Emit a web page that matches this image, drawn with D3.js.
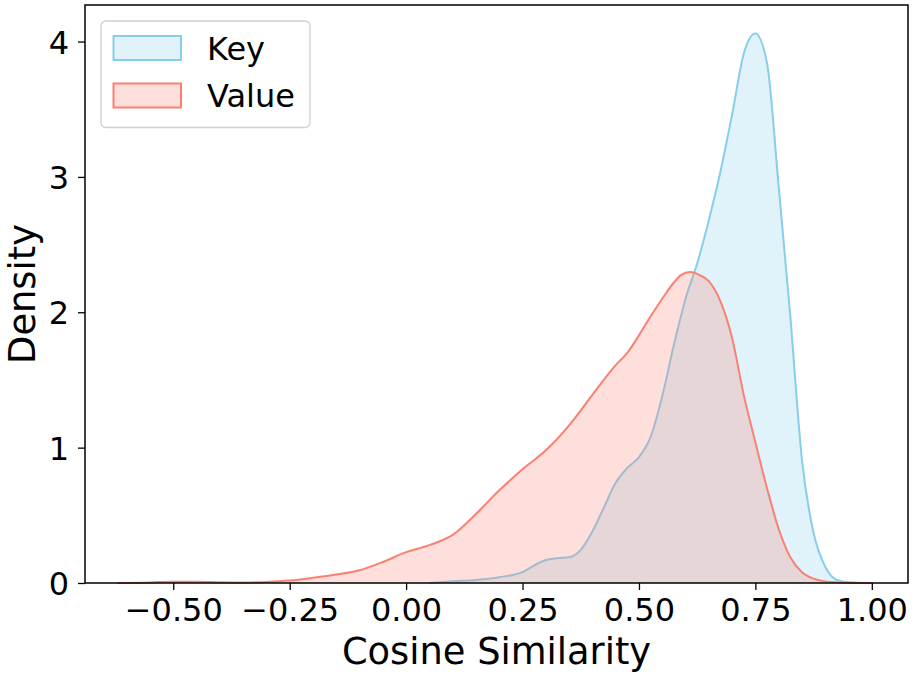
<!DOCTYPE html>
<html>
<head>
<meta charset="utf-8">
<script src="https://cdn.jsdelivr.net/npm/d3@7"></script>
<style>
  html, body { margin: 0; padding: 0; background: #fff; }
  svg { display: block; font-family: "DejaVu Sans", sans-serif; }
</style>
</head>
<body>
<svg id="chart" width="914" height="676"></svg>
<script>
// ---- data ----
const seriesNames = ["Key", "Value"];
const keyX = [0.05, 0.10, 0.15, 0.20, 0.25, 0.275, 0.30, 0.325, 0.35, 0.375, 0.40, 0.425, 0.45, 0.475, 0.50, 0.525, 0.55, 0.575, 0.60, 0.625, 0.65, 0.675, 0.70, 0.725, 0.75, 0.775, 0.80, 0.825, 0.85, 0.875, 0.90, 0.925, 0.95, 1.00];
const keyY = [0.0, 0.013, 0.023, 0.043, 0.08, 0.13, 0.17, 0.183, 0.19, 0.245, 0.38, 0.56, 0.74, 0.85, 0.93, 1.08, 1.38, 1.76, 2.10, 2.36, 2.68, 3.04, 3.46, 3.91, 4.06, 3.84, 2.93, 1.97, 0.91, 0.37, 0.12, 0.022, 0.005, 0.0];
const valueX = [-0.62, -0.55, -0.50, -0.45, -0.40, -0.35, -0.30, -0.25, -0.20, -0.15, -0.10, -0.05, 0.0, 0.05, 0.10, 0.15, 0.20, 0.25, 0.30, 0.35, 0.40, 0.45, 0.475, 0.50, 0.525, 0.55, 0.575, 0.59, 0.61, 0.63, 0.65, 0.675, 0.70, 0.725, 0.75, 0.775, 0.80, 0.825, 0.85, 0.875, 0.90, 0.95, 1.00];
const valueY = [0.0, 0.004, 0.01, 0.01, 0.006, 0.004, 0.008, 0.018, 0.038, 0.062, 0.094, 0.155, 0.228, 0.28, 0.355, 0.51, 0.685, 0.84, 0.98, 1.165, 1.39, 1.61, 1.70, 1.83, 1.97, 2.10, 2.22, 2.275, 2.297, 2.275, 2.23, 2.08, 1.81, 1.39, 1.04, 0.70, 0.40, 0.19, 0.08, 0.032, 0.012, 0.002, 0.0];
const xTicks = [-0.50, -0.25, 0.00, 0.25, 0.50, 0.75, 1.00];
const yTicks = [0, 1, 2, 3, 4];
const xLabel = "Cosine Similarity";
const yLabel = "Density";
const lineColors = ["#87CEEB", "#FA8072"];

// ---- layout ----
const svg = d3.select("#chart");
const mLeft = 85, mRight = 908, mTop = 5, mBottom = 583;

const x = d3.scaleLinear().domain([-0.6895, 1.0777]).range([mLeft, mRight]);
const y = d3.scaleLinear().domain([0, 4.27]).range([mBottom, mTop]);

const series = [
  { name: seriesNames[0], pts: keyX.map((v, i) => [v, keyY[i]]), color: lineColors[0] },
  { name: seriesNames[1], pts: valueX.map((v, i) => [v, valueY[i]]), color: lineColors[1] }
];

const area = d3.area().x(d => x(d[0])).y0(y(0)).y1(d => y(d[1])).curve(d3.curveMonotoneX);
const line = d3.line().x(d => x(d[0])).y(d => y(d[1])).curve(d3.curveMonotoneX);

const plot = svg.append("g");
series.forEach(s => {
  plot.append("path").attr("d", area(s.pts))
    .attr("fill", s.color).attr("fill-opacity", 0.25).attr("stroke", "none");
  plot.append("path").attr("d", line(s.pts))
    .attr("fill", "none").attr("stroke", s.color).attr("stroke-width", 2);
});

// ---- axes ----
const fmt = d => (d < 0 ? "\u2212" : "") + Math.abs(d).toFixed(2);
const xAxis = d3.axisBottom(x).tickValues(xTicks).tickSize(7).tickPadding(8).tickFormat(fmt);
const gx = svg.append("g").attr("transform", `translate(0,${mBottom})`).call(xAxis);
gx.select(".domain").remove();
gx.selectAll(".tick line").attr("stroke", "#000").attr("stroke-width", 1.3);
gx.selectAll(".tick text").attr("font-size", 32).attr("fill", "#000")
  .attr("font-family", "DejaVu Sans").attr("dy", "0.71em");

const yAxis = d3.axisLeft(y).tickValues(yTicks).tickSize(7).tickPadding(9).tickFormat(d3.format("d"));
const gy = svg.append("g").attr("transform", `translate(${mLeft},0)`).call(yAxis);
gy.select(".domain").remove();
gy.selectAll(".tick line").attr("stroke", "#000").attr("stroke-width", 1.3);
gy.selectAll(".tick text").attr("font-size", 32).attr("fill", "#000")
  .attr("font-family", "DejaVu Sans").attr("dy", "0.36em");

// frame
svg.append("rect").attr("x", mLeft).attr("y", mTop)
  .attr("width", mRight - mLeft).attr("height", mBottom - mTop)
  .attr("fill", "none").attr("stroke", "#000").attr("stroke-width", 1.5);

// axis labels
svg.append("text").attr("x", (mLeft + mRight) / 2).attr("y", 664)
  .attr("text-anchor", "middle").attr("font-size", 36.8).attr("fill", "#000").text(xLabel);
svg.append("text").attr("transform", `translate(35,${(mTop + mBottom) / 2}) rotate(-90)`)
  .attr("text-anchor", "middle").attr("font-size", 36.8).attr("fill", "#000").text(yLabel);

// ---- legend ----
const lg = svg.append("g");
lg.append("rect").attr("x", 101).attr("y", 21).attr("width", 209).attr("height", 106.5)
  .attr("rx", 5).attr("fill", "#fff").attr("fill-opacity", 0.8)
  .attr("stroke", "#d0d0d0").attr("stroke-width", 1.3);
series.forEach((s, i) => {
  const yy = 36 + i * 47.5;
  lg.append("rect").attr("x", 113.5).attr("y", yy).attr("width", 67.5).attr("height", 24)
    .attr("fill", s.color).attr("fill-opacity", 0.25)
    .attr("stroke", s.color).attr("stroke-width", 2);
  lg.append("text").attr("x", 207).attr("y", yy + 23.5)
    .attr("font-size", 32).attr("fill", "#000").text(s.name);
});
</script>
</body>
</html>
